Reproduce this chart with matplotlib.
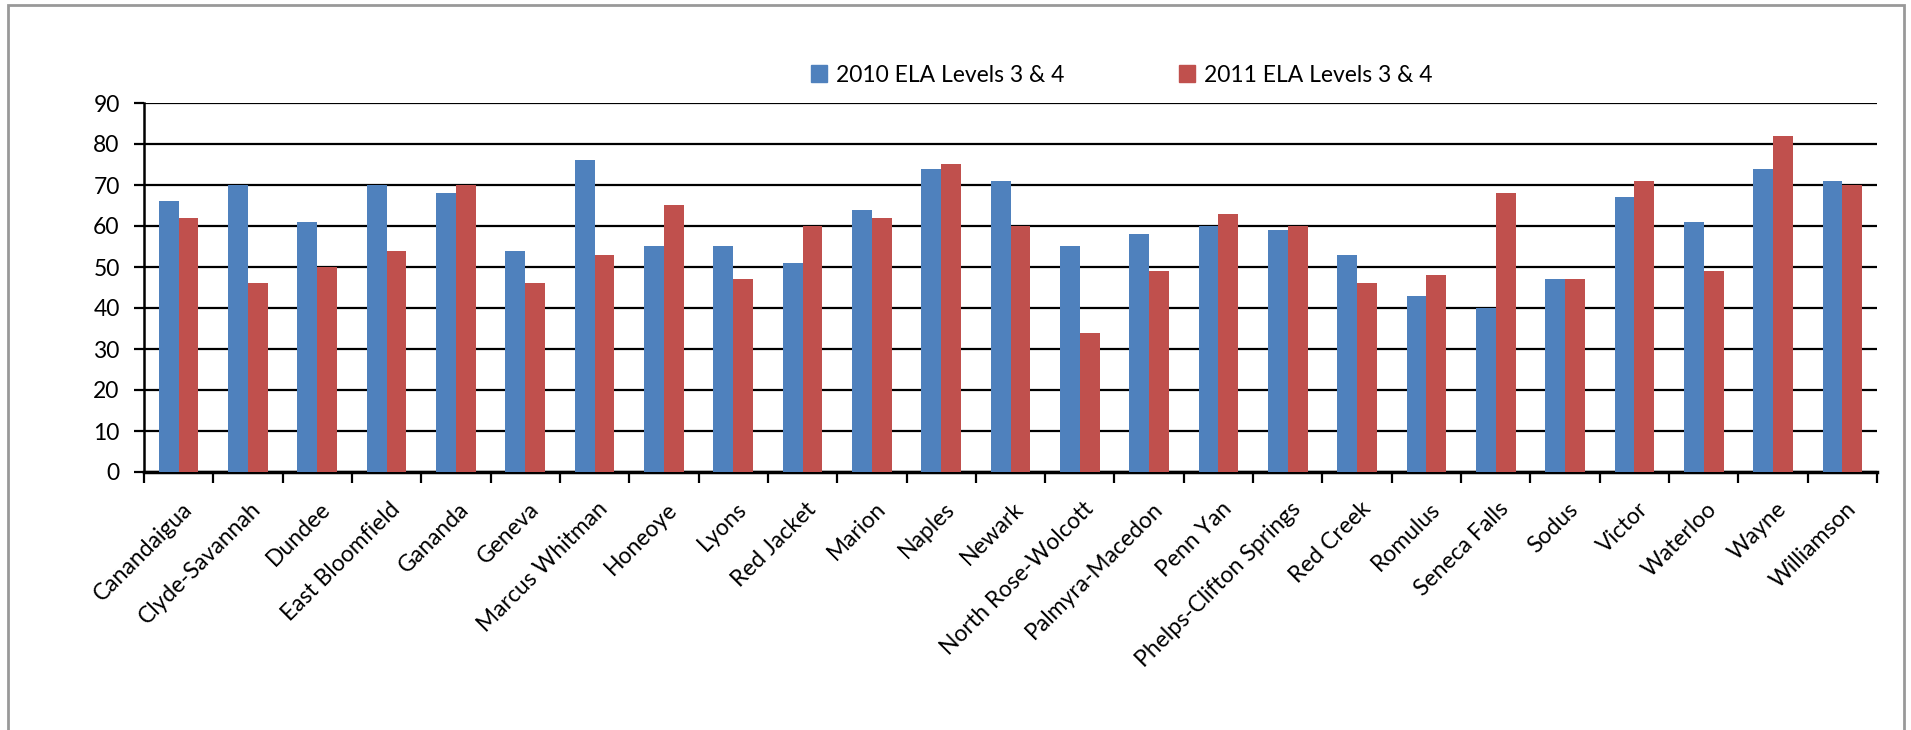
import numpy as np
import matplotlib
matplotlib.use("Agg")
import matplotlib.pyplot as plt
from matplotlib.patches import Rectangle, Patch
from matplotlib.transforms import ScaledTranslation

plt.rcParams["font.family"] = ["Lato", "DejaVu Sans"]

districts = ["Canandaigua", "Clyde-Savannah", "Dundee", "East Bloomfield", "Gananda",
             "Geneva", "Marcus Whitman", "Honeoye", "Lyons", "Red Jacket", "Marion",
             "Naples", "Newark", "North Rose-Wolcott", "Palmyra-Macedon", "Penn Yan",
             "Phelps-Clifton Springs", "Red Creek", "Romulus", "Seneca Falls", "Sodus",
             "Victor", "Waterloo", "Wayne", "Williamson"]
ela_2010 = [66, 70, 61, 70, 68, 54, 76, 55, 55, 51, 64, 74, 71, 55, 58, 60, 59, 53,
            43, 40, 47, 67, 61, 74, 71]
ela_2011 = [62, 46, 50, 54, 70, 46, 53, 65, 47, 60, 62, 75, 60, 34, 49, 63, 60, 46,
            48, 68, 47, 71, 49, 82, 70]
series_names = ["2010 ELA Levels 3 & 4", "2011 ELA Levels 3 & 4"]
yticks = list(range(0, 91, 10))

BLUE = "#4F81BD"
RED = "#C0504D"

fig = plt.figure(figsize=(19.11, 7.30), dpi=100)
ax = fig.add_axes([144/1911, 1-472/730, (1877-144)/1911, (472-103)/730])

x = np.arange(len(districts))
w = 1 / 3.5
ax.bar(x - w/2, ela_2010, width=w, color=BLUE, zorder=3)
ax.bar(x + w/2, ela_2011, width=w, color=RED, zorder=3)

ax.set_xlim(-0.5, len(districts) - 0.5)
ax.set_ylim(0, 90)
ax.set_yticks(yticks)
ax.yaxis.grid(True, color="black", lw=1.6, zorder=1)
ax.set_axisbelow(True)

# category labels rotated, ticks at category boundaries
ax.set_xticks(x)
ax.set_xticklabels(districts, rotation=45, ha="right", va="top",
                   rotation_mode="anchor", fontsize=16.5)
ax.tick_params(axis="x", which="major", length=0, pad=19)
shift = ScaledTranslation(2.6/100, 0, fig.dpi_scale_trans)
for lab in ax.get_xticklabels():
    lab.set_transform(lab.get_transform() + shift)
ax.set_xticks(np.arange(-0.5, len(districts)), minor=True)
ax.tick_params(axis="x", which="minor", length=8, width=1.6, color="black")
ax.tick_params(axis="y", length=7, width=1.6, labelsize=16.5, pad=10.5)

for s in ["top", "right"]:
    ax.spines[s].set_visible(False)
ax.spines["left"].set_linewidth(1.8)
ax.spines["bottom"].set_linewidth(2.5)

handles = [Patch(color=BLUE), Patch(color=RED)]
fig.legend(handles, series_names, loc="center", bbox_to_anchor=(1122/1911, 1-75/730),
           ncol=2, frameon=False, fontsize=16.5, handlelength=0.7, handleheight=0.7,
           handletextpad=0.4, columnspacing=5.0)

# chart area border
fig.patches.append(Rectangle((8/1911, -0.05), (1904-8)/1911, 1.05 - 5/730,
                             transform=fig.transFigure, fill=False,
                             edgecolor="#999999", lw=2))

fig.savefig("out.png", dpi=100)
